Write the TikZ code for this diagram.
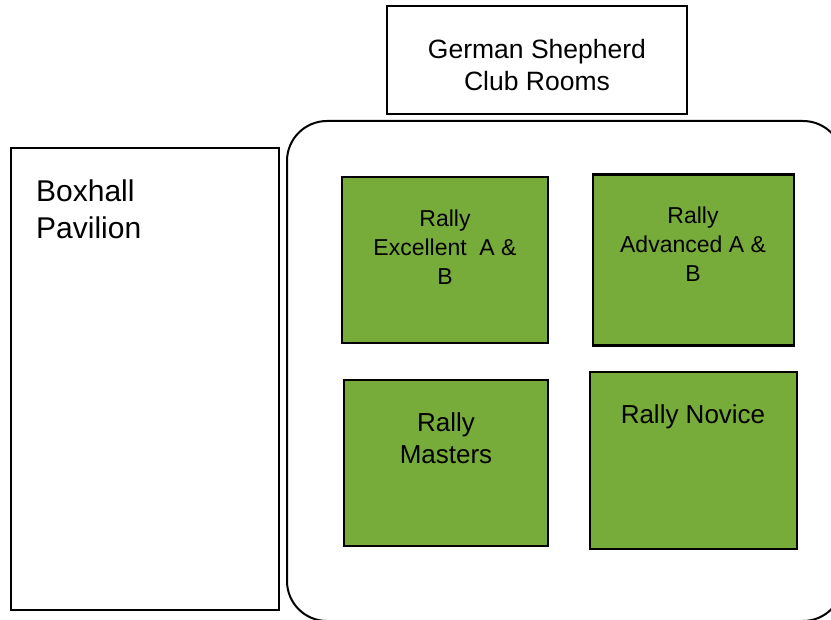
\documentclass[tikz,border=0pt]{standalone}
\usepackage{fontspec}
\setmainfont{Liberation Sans}
\usepackage{xcolor}
\usetikzlibrary{calc}
\definecolor{rallygreen}{RGB}{120,172,58}

\begin{document}
\begin{tikzpicture}[x=1pt, y=-1pt,
		plainbox/.style={draw=black, line width=2pt, fill=white, inner sep=0pt},
		ringbox/.style={draw=black, line width=2pt, inner sep=0pt},
		greenbox/.style={draw=black, line width=2.2pt, fill=rallygreen, inner sep=0pt},
		roomtext/.style={inner sep=0pt, align=center, anchor=north}]
		\useasboundingbox (0,0) rectangle (831,620);
		\node[ringbox, rounded corners=40pt, minimum width=556pt, minimum height=500pt] (field) at (565,371) {};
		\node[plainbox, minimum width=300pt, minimum height=108pt] (club) at (537,60) {};
		\node[plainbox, minimum width=268pt, minimum height=462pt] (boxhall) at (145,379) {};
		\node[greenbox, minimum width=206pt, minimum height=166pt] (excellent) at (445,260) {};
		\node[greenbox, minimum width=201pt, minimum height=171pt] (advanced) at (693.5,260) {};
		\node[greenbox, minimum width=204pt, minimum height=166pt] (masters) at (446,463) {};
		\node[greenbox, minimum width=207pt, minimum height=177pt] (novice) at (693.5,460.5) {};
		% labels
		\node[roomtext, font=\fontsize{26.5}{32}\selectfont] (clubtxt) at (537,39.5) {German Shepherd\\Club Rooms};
		\node[roomtext, anchor=north west, align=left, font=\fontsize{30}{36.5}\selectfont] (boxhalltxt) at (36,180) {Boxhall\\Pavilion};
		\node[roomtext, font=\fontsize{23}{29}\selectfont] (excellenttxt) at (445,210) {Rally\\Excellent\ \ A \&\\B};
		\node[roomtext, font=\fontsize{23}{29}\selectfont] (advancedtxt) at (693,207) {Rally\\Advanced A \&\\B};
		\node[roomtext, font=\fontsize{26}{32}\selectfont] (masterstxt) at (446,412.5) {Rally\\Masters};
		\node[roomtext, font=\fontsize{26}{32}\selectfont] (novicetxt) at (693,404) {Rally Novice};
\end{tikzpicture}
\end{document}
